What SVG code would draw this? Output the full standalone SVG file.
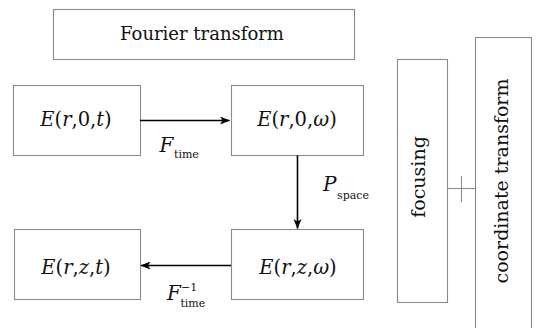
<svg xmlns="http://www.w3.org/2000/svg" width="542" height="328" viewBox="0 0 542 328">
<style>
.box{fill:#fff;stroke:#8a8a8a;stroke-width:1.1}
.t{fill:#111}
.m{font-size:19.5px;text-anchor:middle}
.i{font-style:italic}
.sub{font-size:11px}
.arr{stroke:#000;stroke-width:1.6;fill:none}
</style>
<defs>
<marker id="ah" viewBox="0 0 10 8" refX="9.5" refY="4" markerWidth="10" markerHeight="8" markerUnits="userSpaceOnUse" orient="auto">
<path d="M0,0 L10,4 L0,8 L2.5,4 Z" fill="#000"/>
</marker>
</defs>
<rect width="542" height="328" fill="#fff"/>
<g font-family="DejaVu Serif, serif">
<g id="fourier">
<rect class="box" x="53.5" y="9.5" width="301" height="50"/>
<text class="t" x="202" y="40" font-size="18" text-anchor="middle">Fourier transform</text>
</g>
<g id="e_r0t">
<rect class="box" x="13.5" y="85.5" width="127" height="70"/>
<text class="t m" x="76" y="126"><tspan class="i">E</tspan>(<tspan class="i">r</tspan>,0,<tspan class="i">t</tspan>)</text>
</g>
<g id="e_r0w">
<rect class="box" x="231.5" y="85.5" width="132" height="70"/>
<text class="t m" x="297" y="126"><tspan class="i">E</tspan>(<tspan class="i">r</tspan>,0,<tspan class="i">ω</tspan>)</text>
</g>
<g id="e_rzt">
<rect class="box" x="14.5" y="229.5" width="126" height="70"/>
<text class="t m" x="76" y="274"><tspan class="i">E</tspan>(<tspan class="i">r</tspan>,<tspan class="i">z</tspan>,<tspan class="i">t</tspan>)</text>
</g>
<g id="e_rzw">
<rect class="box" x="231.5" y="229.5" width="132" height="70"/>
<text class="t m" x="298" y="274"><tspan class="i">E</tspan>(<tspan class="i">r</tspan>,<tspan class="i">z</tspan>,<tspan class="i">ω</tspan>)</text>
</g>
<g id="focusing">
<rect class="box" x="397.5" y="59.5" width="50" height="243"/>
<text class="t" transform="translate(424.5,177) rotate(-90)" font-size="19" text-anchor="middle">focusing</text>
</g>
<g id="coord">
<rect class="box" x="475.5" y="37.5" width="56" height="301"/>
<text class="t" transform="translate(507.5,181) rotate(-90)" font-size="19" text-anchor="middle">coordinate transform</text>
</g>
<g id="connectors">
<line class="arr" x1="140" y1="120.5" x2="229.5" y2="120.5" marker-end="url(#ah)"/>
<line class="arr" x1="297.5" y1="155.5" x2="297.5" y2="228.5" marker-end="url(#ah)"/>
<line class="arr" x1="231" y1="265.5" x2="141" y2="265.5" marker-end="url(#ah)"/>
<line x1="447.5" y1="188.5" x2="475.5" y2="188.5" stroke="#8a8a8a" stroke-width="1.1"/>
<line x1="461.5" y1="176" x2="461.5" y2="202" stroke="#8a8a8a" stroke-width="1.1"/>
</g>
<g id="labels">
<text class="t i" x="159.5" y="152" font-size="20">F</text>
<text class="t sub" x="174" y="158.3">time</text>
<text class="t i" x="323" y="191" font-size="20">P</text>
<text class="t sub" x="337" y="198.8">space</text>
<text class="t i" x="167" y="300" font-size="20">F</text>
<text class="t sub" x="181" y="291">−1</text>
<text class="t sub" x="180.4" y="307">time</text>
</g>
</g>
</svg>
